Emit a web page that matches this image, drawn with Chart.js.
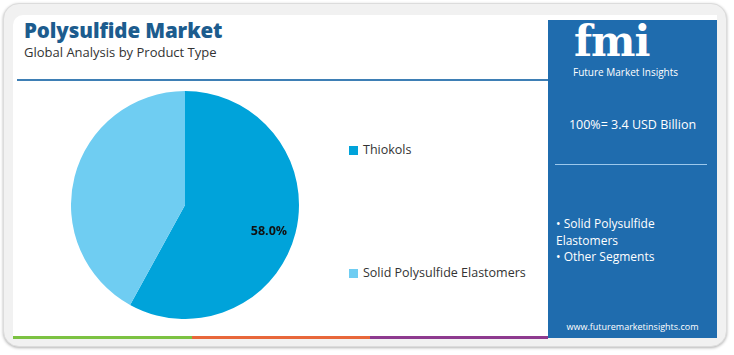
<!DOCTYPE html>
<html><head><meta charset="utf-8">
<script src="https://cdn.jsdelivr.net/npm/chart.js@4"></script>
<style>
html,body{margin:0;padding:0;background:#fff;}
body{width:734px;height:355px;position:relative;overflow:hidden;font-family:"Open Sans",Inter,sans-serif;}
#card{position:absolute;left:3px;top:3px;width:724px;height:344px;border-radius:16px;background:#f1f1f1;box-shadow:0 1px 3px rgba(0,0,0,0.3);border:1px solid #dcdcdc;box-sizing:border-box;}
#inner{position:absolute;left:13px;top:15px;width:704px;height:323px;background:#fff;border-radius:10px 0 0 0;}
.t{position:absolute;white-space:nowrap;}
#title{left:24px;top:16px;font-size:20.5px;font-weight:800;color:#1c5c8e;letter-spacing:-0.1px;}
#sub{left:24px;top:43px;font-size:13px;color:#333;}
#hr{position:absolute;left:17px;top:79px;width:531px;height:2px;background:#3e7fb5;}
#panel{position:absolute;left:548px;top:20px;width:169px;height:318px;background:#1f6cae;}
#fmi{left:574px;top:22px;height:40px;font-size:42px;line-height:40px;font-weight:700;color:#fff;font-family:"DejaVu Serif",serif;letter-spacing:-1px;}
#fmisub{left:573px;top:66px;font-size:10px;line-height:13px;color:#fff;}
#total{left:548px;width:169px;text-align:center;top:116px;font-size:12.5px;color:#fff;}
#pline{position:absolute;left:555px;top:164px;width:152px;height:1px;background:#9cc8ec;}
#bul{left:556px;top:216px;font-size:12px;line-height:16.5px;color:#fff;}
#web{left:548px;width:169px;text-align:center;top:320px;font-size:9px;color:#fff;}
.bar{position:absolute;top:336px;height:3px;}
#chartbox{position:absolute;left:71px;top:91px;width:228px;height:228px;}
.lg{position:absolute;font-size:12.5px;color:#333;white-space:nowrap;}
.lg i{display:inline-block;width:9px;height:9px;margin-right:5px;vertical-align:-1px;}
</style></head>
<body>
<div id="card"></div>
<div id="inner"></div>
<div class="t" id="title">Polysulfide Market</div>
<div class="t" id="sub">Global Analysis by Product Type</div>
<div id="hr"></div>
<div id="panel"></div>
<div class="t" id="fmi">fmi</div>
<div class="t" id="fmisub">Future Market Insights</div>
<div class="t" id="total">100%= 3.4 USD Billion</div>
<div id="pline"></div>
<div class="t" id="bul">• Solid Polysulfide<br>Elastomers<br>• Other Segments</div>
<div class="t" id="web">www.futuremarketinsights.com</div>
<div class="bar" style="left:13px;width:179px;background:#7cc242"></div>
<div class="bar" style="left:192px;width:178px;background:#e8673a"></div>
<div class="bar" style="left:370px;width:178px;background:#8e3a8f"></div>
<div id="chartbox"><canvas id="c"></canvas></div>
<div id="legend"></div>
<script>
const categories = ["Thiokols", "Solid Polysulfide Elastomers"];
const shares = [58.0, 42.0];
const sliceColors = ["#00a3da", "#6fcdf2"];
const labelShown = [true, false];
const legendTops = [141, 264];

const lg = document.getElementById('legend');
categories.forEach((c,i)=>{
  const d=document.createElement('div');
  d.className='lg';
  d.style.left='349px';
  d.style.top=legendTops[i]+'px';
  d.innerHTML='<i style="background:'+sliceColors[i]+'"></i>'+c;
  lg.appendChild(d);
});

const pctLabels = {
  id:'pctLabels',
  afterDatasetsDraw(chart){
    const ctx=chart.ctx;
    const meta=chart.getDatasetMeta(0);
    meta.data.forEach((arc,i)=>{
      if(!labelShown[i]) return;
      const p=arc.getProps(['x','y','startAngle','endAngle','outerRadius'],true);
      const mid=(p.startAngle+p.endAngle)/2;
      const r=p.outerRadius*0.76;
      ctx.save();
      ctx.font='bold 12.5px "Open Sans", sans-serif';
      ctx.fillStyle='#111';
      ctx.textAlign='center';ctx.textBaseline='middle';
      ctx.fillText(shares[i].toFixed(1)+'%', p.x+Math.cos(mid)*r, p.y+Math.sin(mid)*r+5);
      ctx.restore();
    });
  }
};

new Chart(document.getElementById('c'),{
  type:'pie',
  data:{labels:categories,datasets:[{data:shares,backgroundColor:sliceColors,borderWidth:0}]},
  options:{responsive:true,maintainAspectRatio:false,animation:false,
    layout:{padding:0},
    plugins:{legend:{display:false},tooltip:{enabled:false}}},
  plugins:[pctLabels]
});
</script>
</body></html>
